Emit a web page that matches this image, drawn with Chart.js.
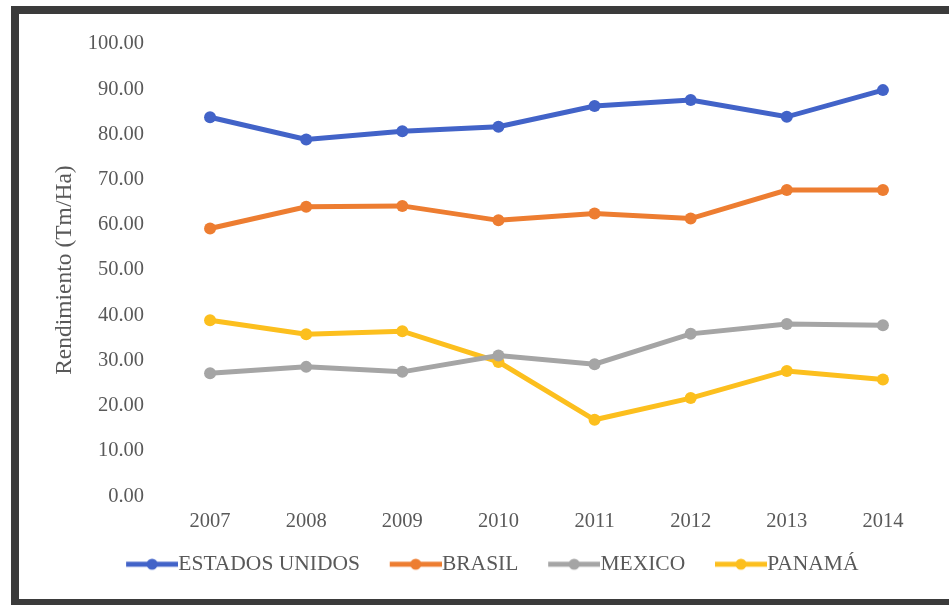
<!DOCTYPE html>
<html>
<head>
<meta charset="utf-8">
<script src="https://cdn.jsdelivr.net/npm/chart.js@4/dist/chart.umd.min.js"></script>
<style>
  html, body { margin: 0; padding: 0; background: #fff; }
  #frame {
    position: absolute; left: 11px; top: 6px; width: 960px; height: 601px;
    border: 8px solid #3b3b3b; box-sizing: border-box;
  }
  #wrap { position: absolute; left: 0; top: 0; width: 949px; height: 605px; }
</style>
</head>
<body>
<div id="frame"></div>
<div id="wrap"><canvas id="rendChart" width="949" height="605"></canvas></div>
<script>
var years = ['2007', '2008', '2009', '2010', '2011', '2012', '2013', '2014'];
var estadosUnidos = [83.8, 78.9, 80.7, 81.7, 86.3, 87.6, 83.9, 89.8];
var brasil = [59.2, 64.0, 64.2, 61.0, 62.5, 61.4, 67.7, 67.7];
var mexico = [27.2, 28.6, 27.5, 31.1, 29.2, 35.9, 38.1, 37.8];
var panama = [38.9, 35.8, 36.5, 29.7, 16.9, 21.7, 27.7, 25.8];
var seriesNames = ['ESTADOS UNIDOS', 'BRASIL', 'MEXICO', 'PANAMÁ'];
var seriesColors = ['#4263c8', '#ed7d31', '#a5a5a5', '#fcbf1e'];

var serif = '"Liberation Serif", "Times New Roman", serif';
var legendFont = 21.5;
var legendPad = 7.3;   // chart.js legend padding (also the item gap)
var markerLen = 52;    // length of the line in the legend marker
var itemGap = 30;      // space between a label and the next marker
var legendBox = markerLen - legendFont / 2 - legendPad + itemGap;

// legend marker: short thick line with a dot in the middle,
// drawn flush against the label text
function legendMarker(color) {
  var w = Math.round(legendBox + legendFont);
  var c = document.createElement('canvas');
  c.width = w;
  c.height = 14;
  var g = c.getContext('2d');
  g.strokeStyle = color;
  g.lineWidth = 5;
  g.beginPath();
  g.moveTo(w - markerLen, 7);
  g.lineTo(w, 7);
  g.stroke();
  g.fillStyle = color;
  g.beginPath();
  g.arc(w - markerLen / 2, 7, 5.5, 0, Math.PI * 2);
  g.fill();
  return c;
}

// the markers hang into the gap on their left, so pull the row back to center
var legendShift = {
  id: 'legendShift',
  afterLayout: function(chart) {
    chart.legend.left -= 8;
    chart.legend.right -= 8;
  }
};

var allValues = [estadosUnidos, brasil, mexico, panama];
var sets = [];
for (var i = 0; i < allValues.length; i++) {
  sets.push({
    label: seriesNames[i],
    data: allValues[i],
    borderColor: seriesColors[i],
    backgroundColor: seriesColors[i],
    borderWidth: 5,
    pointRadius: 6,
    pointHoverRadius: 6,
    pointBorderWidth: 0,
    tension: 0,
    marker: legendMarker(seriesColors[i])
  });
}

var ctx = document.getElementById('rendChart');
var lineChart = new Chart(ctx, {
  type: 'line',
  data: {
    labels: years,
    datasets: sets
  },
  plugins: [legendShift],
  options: {
    responsive: false,
    animation: false,
    layout: {
      padding: { top: 44, left: 47, right: 18, bottom: 20 }
    },
    plugins: {
      tooltip: { enabled: false },
      legend: {
        position: 'bottom',
        labels: {
          usePointStyle: true,
          pointStyleWidth: legendBox,
          padding: legendPad,
          color: '#595959',
          font: { family: serif, size: legendFont },
          generateLabels: function(chart) {
            return chart.data.datasets.map(function(ds, idx) {
              return {
                text: ds.label,
                pointStyle: ds.marker,
                fillStyle: ds.borderColor,
                strokeStyle: ds.borderColor,
                fontColor: '#595959',
                lineWidth: 0,
                datasetIndex: idx
              };
            });
          }
        }
      }
    },
    scales: {
      x: {
        offset: true,
        grid: { display: false, drawTicks: false },
        border: { display: false },
        ticks: {
          padding: 12.7,
          color: '#595959',
          font: { family: serif, size: 20.5 }
        }
      },
      y: {
        min: 0,
        max: 100,
        grid: { display: false, drawTicks: false },
        border: { display: false },
        ticks: {
          stepSize: 10,
          padding: 18,
          color: '#595959',
          font: { family: serif, size: 20.5 },
          callback: function(v) { return v.toFixed(2); }
        },
        title: {
          display: true,
          text: 'Rendimiento (Tm/Ha)',
          color: '#595959',
          font: { family: serif, size: 23.5 }
        },
        afterFit: function(scale) { scale.width = 115; }
      }
    }
  }
});
</script>
</body>
</html>
